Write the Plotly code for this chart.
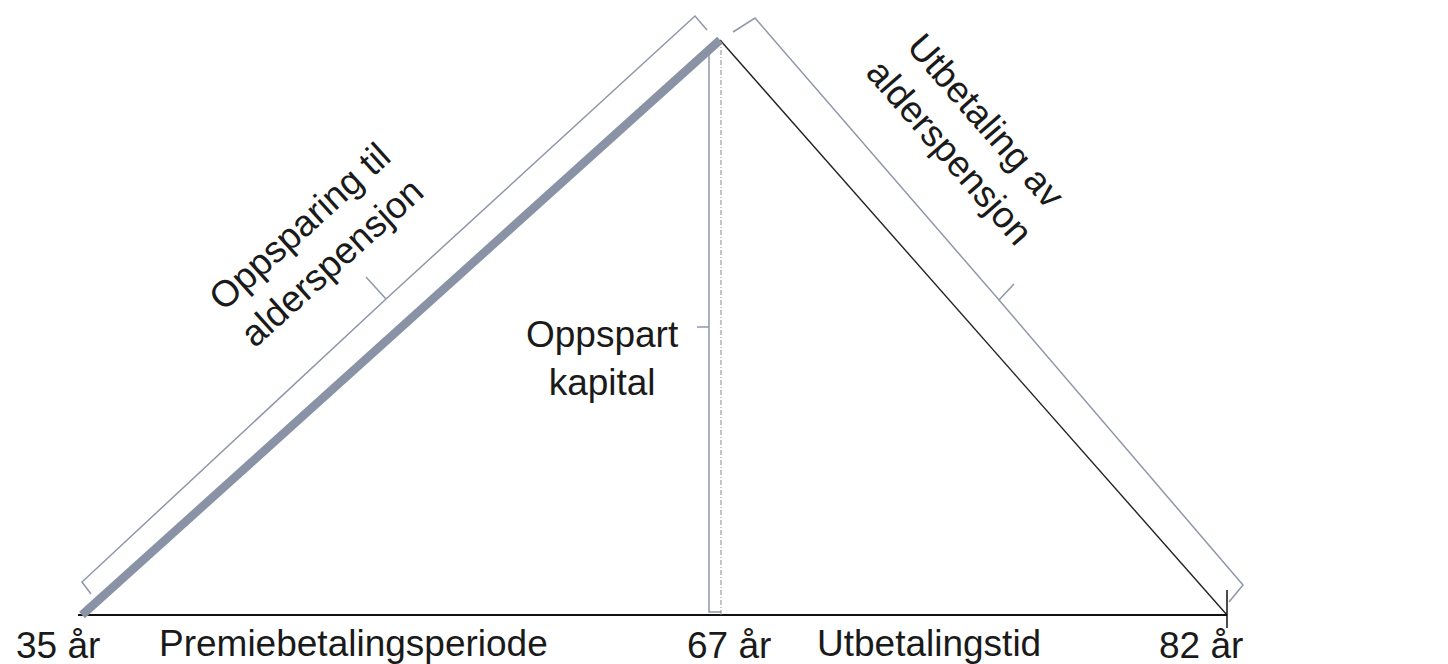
import numpy as np
import plotly.graph_objects as go

# ---------------- data ----------------
ages = [35, 67, 82]                 # key ages
capital = [0, 100, 0]               # relative saved capital (peak at retirement)
age_labels = ["35 år", "67 år", "82 år"]
period_labels = ["Premiebetalingsperiode", "Utbetalingstid"]
phase_labels = ["Oppsparing til<br>alderspensjon", "Utbetaling av<br>alderspensjon"]
peak_label = "Oppspart<br>kapital"

# ---------------- layout helpers ----------------
W, H = 1448, 664
# schematic (not to scale) horizontal placement of the key ages, in pixels
AGE_ANCHOR_PX = [82, 720, 1227]
BASE_PY, PEAK_PY = 615, 40


def xd(age):
    return float(np.interp(age, ages, AGE_ANCHOR_PX))


def P(px, py):
    return px / W, 1 - py / H


def path(points):
    s = ""
    for i, (px, py) in enumerate(points):
        x, y = P(px, py)
        s += ("M" if i == 0 else " L") + f" {x:.5f} {y:.5f}"
    return s


ky = (BASE_PY - PEAK_PY) / max(capital)
y_lo = -(H - BASE_PY) / ky
y_hi = BASE_PY / ky

FONT = "Liberation Sans, Arial, sans-serif"
TXT = "#1a1a1a"
GRAY = "#8a93a5"
BRACE = "#8f97a8"

fig = go.Figure()

# baseline
fig.add_trace(go.Scatter(x=[xd(ages[0]) - 4, xd(ages[-1])], y=[capital[0], capital[-1]],
                         mode="lines", line=dict(color="#111", width=2), hoverinfo="skip"))
# dashed vertical at retirement
fig.add_trace(go.Scatter(x=[xd(ages[1]) + 1, xd(ages[1]) + 1], y=[0, capital[1]],
                         mode="lines", line=dict(color="#8a8a8a", width=1, dash="5px,2px,1px,2px"),
                         hoverinfo="skip"))
# payout line
fig.add_trace(go.Scatter(x=[xd(a) for a in ages[1:]], y=capital[1:],
                         mode="lines", line=dict(color="#222", width=1.4), hoverinfo="skip"))
# saving line (thick gray)
fig.add_trace(go.Scatter(x=[xd(a) for a in ages[:2]], y=capital[:2],
                         mode="lines", line=dict(color=GRAY, width=8.5), hoverinfo="skip"))

shapes = []
# left brace (saving phase)
shapes.append(dict(type="path", path=path([(91, 594), (82, 582), (386, 299), (366, 277),
                                             (386, 299), (695, 16), (707, 30)]),
                   xref="paper", yref="paper", line=dict(color=BRACE, width=1.5), layer="below"))
# right brace (payout phase)
shapes.append(dict(type="path", path=path([(733, 32), (755, 18), (999, 300), (1014, 284),
                                             (999, 300), (1243, 585), (1229, 602)]),
                   xref="paper", yref="paper", line=dict(color=BRACE, width=1.5), layer="below"))
# vertical brace (saved capital)
shapes.append(dict(type="path", path=path([(721, 612), (709, 612), (709, 327), (697, 327),
                                             (709, 327), (709, 48), (720, 42)]),
                   xref="paper", yref="paper", line=dict(color=BRACE, width=1.5), layer="below"))
# end tick at last age
shapes.append(dict(type="line", xref="x", yref="paper", x0=xd(ages[-1]), x1=xd(ages[-1]),
                   y0=P(0, 590)[1], y1=P(0, 628)[1], line=dict(color="#111", width=1.5)))

ann = []
FS = 37
label_px = [58, 729, 1201]
for lab, px in zip(age_labels, label_px):
    ann.append(dict(x=P(px, 0)[0], y=P(0, 623)[1], text=lab, xanchor="center", yanchor="top"))
for lab, px in zip(period_labels, [353, 929]):
    ann.append(dict(x=P(px, 0)[0], y=P(0, 621)[1], text=lab, xanchor="center", yanchor="top"))
ann.append(dict(x=P(602, 0)[0], y=P(0, 358)[1], text=peak_label, xanchor="center", yanchor="middle"))
ann.append(dict(x=P(316, 0)[0], y=P(0, 245)[1], text=phase_labels[0], textangle=-42,
                xanchor="center", yanchor="middle"))
ann.append(dict(x=P(968, 0)[0], y=P(0, 136)[1], text=phase_labels[1], textangle=49,
                xanchor="center", yanchor="middle"))
for a in ann:
    a.update(xref="paper", yref="paper", showarrow=False, font=dict(family=FONT, size=FS, color=TXT))

fig.update_layout(
    width=W, height=H, margin=dict(l=0, r=0, t=0, b=0),
    paper_bgcolor="white", plot_bgcolor="white", showlegend=False,
    xaxis=dict(range=[0, W], visible=False, fixedrange=True),
    yaxis=dict(range=[y_lo, y_hi], visible=False, fixedrange=True),
    shapes=shapes, annotations=ann,
)
fig.write_html("out.html", config={"displayModeBar": False},
               post_script="document.body.style.margin='0';document.body.style.overflow='hidden';")
